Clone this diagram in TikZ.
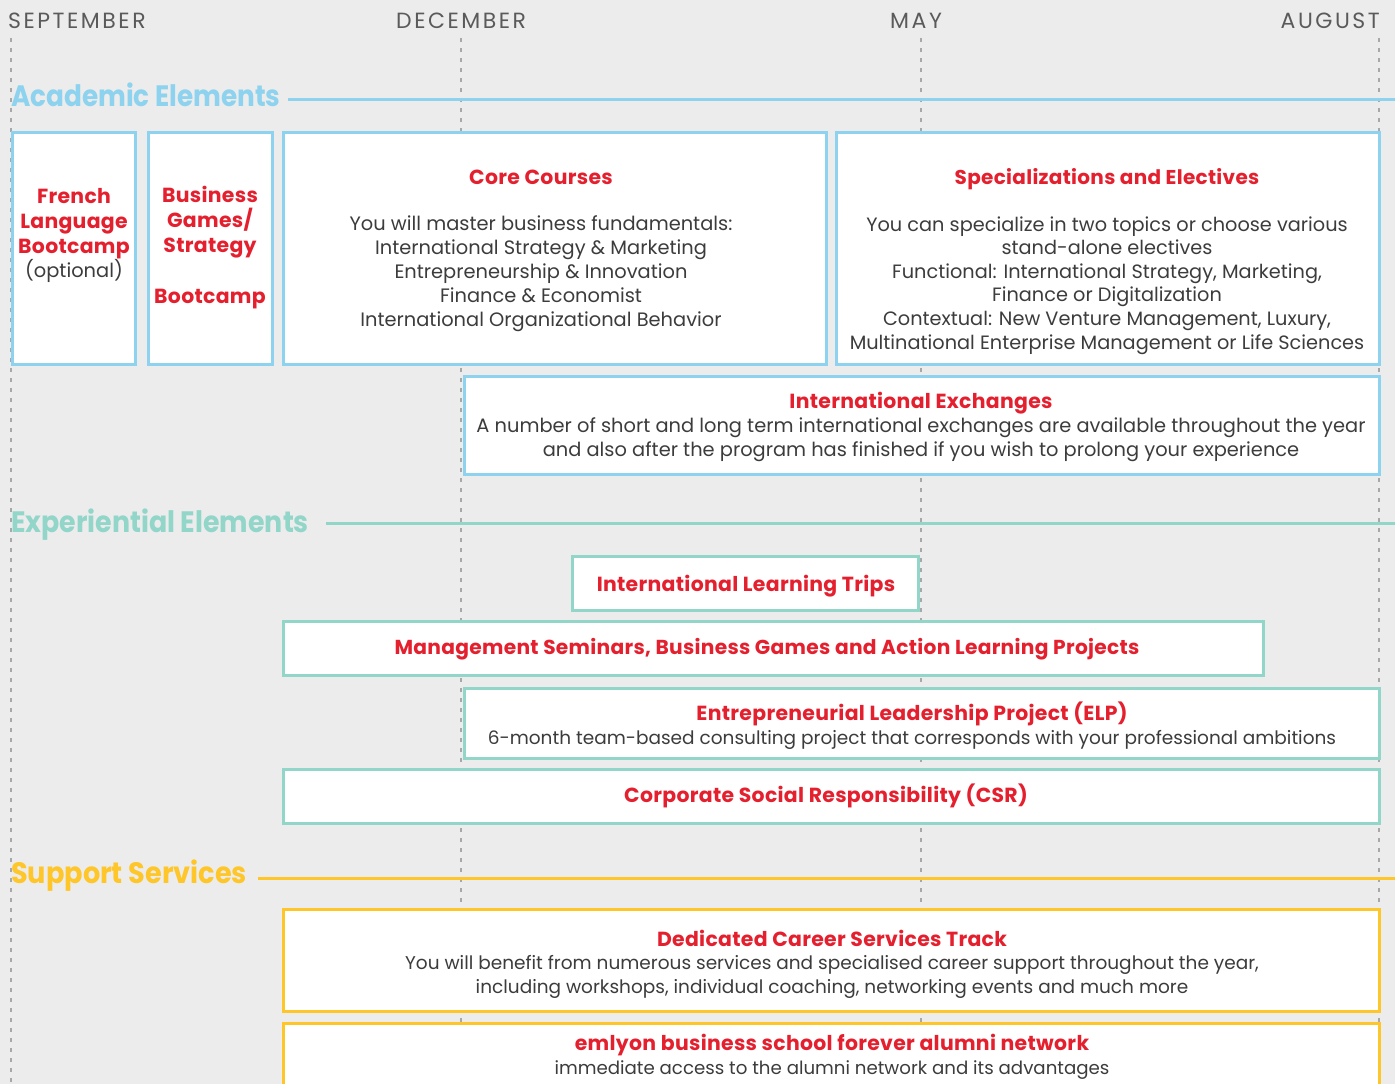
\documentclass[tikz,border=0pt]{standalone}
\usepackage{fontspec}
\setmainfont{Poppins}
\definecolor{bg}{HTML}{EBECEB}
\definecolor{acblue}{HTML}{8DD2EE}
\definecolor{exteal}{HTML}{92D5C9}
\definecolor{supyel}{HTML}{FFC629}
\definecolor{hred}{HTML}{E5202E}
\definecolor{bodygray}{HTML}{3C3C3C}
\definecolor{monthgray}{HTML}{5A5A5A}
\definecolor{dashgray}{HTML}{A8A8A8}
\begin{document}
\begin{tikzpicture}[x=1pt,y=-1pt,
  boxshape/.style={draw, line width=3pt, fill=white, anchor=north west, inner sep=0pt, outer sep=0pt},
  acbox/.style={boxshape, draw=acblue},
  exbox/.style={boxshape, draw=exteal},
  supbox/.style={boxshape, draw=supyel},
  body/.style={inner sep=0pt, anchor=base, align=center, text=bodygray, font=\fontsize{19.4}{23.8}\selectfont},
  smallbody/.style={body, font=\fontsize{18.5}{23.8}\selectfont},
  title/.style={inner sep=0pt, anchor=base, align=center, text=hred, font=\fontsize{20.4}{24.6}\selectfont\bfseries\addfontfeatures{LetterSpace=1.5}},
  month/.style={inner sep=0pt, text=monthgray, font=\fontsize{22}{24}\selectfont\addfontfeatures{LetterSpace=11.5}},
  heading/.style={inner sep=0pt, anchor=base west, font=\fontsize{29.5}{32}\selectfont\bfseries},
  timeline/.style={dashgray, line width=1.2pt, dash pattern=on 4pt off 6pt},
  secline/.style={line width=3pt}
]
\useasboundingbox (0,0) rectangle (1395,1084);
\fill[bg] (0,0) rectangle (1395,1084);

% month labels
\node[month, anchor=base west] (sep) at (8,28) {SEPTEMBER};
\node[month, anchor=base west] (dec) at (396,28) {DECEMBER};
\node[month, anchor=base west] (may) at (890,28) {MAY};
\node[month, anchor=base east] (aug) at (1380,28) {AUGUST};

% timeline dashed verticals
\coordinate (t1a) at (11,38);   \coordinate (t1b) at (11,1084);
\coordinate (t2a) at (461,38);  \coordinate (t2b) at (461,1084);
\coordinate (t3a) at (921,38);  \coordinate (t3b) at (921,1084);
\coordinate (t4a) at (1379,38); \coordinate (t4b) at (1379,1084);
\draw[timeline] (t1a) -- (t1b);
\draw[timeline] (t2a) -- (t2b);
\draw[timeline] (t3a) -- (t3b);
\draw[timeline] (t4a) -- (t4b);

% section headings
\node[heading, text=acblue] (acad) at (11,106) {\scalebox{0.89}[1]{Academic Elements}};
\coordinate (aL) at (288,99); \coordinate (aR) at (1395,99);
\draw[secline, acblue] (aL) -- (aR);

\node[heading, text=exteal] (expe) at (11,532) {\scalebox{0.91}[1]{Experiential Elements}};
\coordinate (eL) at (326,523); \coordinate (eR) at (1395,523);
\draw[secline, exteal] (eL) -- (eR);

\node[heading, text=supyel] (supp) at (11,883) {\scalebox{0.92}[1]{Support Services}};
\coordinate (sL) at (258,878); \coordinate (sR) at (1395,878);
\draw[secline, supyel] (sL) -- (sR);

% academic boxes
\node[acbox, minimum width=123pt, minimum height=232pt] (french) at (12.5,132.5) {};
\node[acbox, minimum width=123.5pt, minimum height=232pt] (busi) at (148.5,132.5) {};
\node[acbox, minimum width=542.5pt, minimum height=232pt] (core) at (283.5,132) {};
\node[acbox, minimum width=542.5pt, minimum height=232pt] (spec) at (836.5,132) {};
\node[acbox, minimum width=914.5pt, minimum height=97.5pt] (iex) at (464.5,376.5) {};

\node[title] (frenchT) at (74,253) {French\\Language\\Bootcamp};
\node[body] (frenchO) at (74,277) {(optional)};
\node[title] (busiT) at (210,252) {Business\\Games/\\Strategy};
\node[title] (busiB) at (210,303) {Bootcamp};

\node[title] (coreT) at (541,184) {Core Courses};
\node[body] (coreB) at (541,326) {You will master business fundamentals:\\International Strategy \& Marketing\\Entrepreneurship \& Innovation\\Finance \& Economist\\International Organizational Behavior};

\node[title, font=\fontsize{20}{24.6}\selectfont\bfseries\addfontfeatures{LetterSpace=1.5}] (specT) at (1107,184) {Specializations and Electives};
\node[body, font=\fontsize{19.3}{23.6}\selectfont] (specB) at (1107,349) {You can specialize in two topics or choose various\\stand-alone electives\\Functional: International Strategy, Marketing,\\Finance or Digitalization\\Contextual: New Venture Management, Luxury,\\Multinational Enterprise Management or Life Sciences};

\node[title] (iexT) at (921,408) {International Exchanges};
\node[body] (iexB) at (921,456) {A number of short and long term international exchanges are available throughout the year\\and also after the program has finished if you wish to prolong your experience};

% experiential boxes
\node[exbox, minimum width=346pt, minimum height=53.5pt] (ilt) at (572.5,556.5) {};
\node[exbox, minimum width=979.5pt, minimum height=54pt] (mgmt) at (283.5,621.5) {};
\node[exbox, minimum width=914.5pt, minimum height=70pt] (elp) at (464.5,688.5) {};
\node[exbox, minimum width=1095.5pt, minimum height=53.5pt] (csr) at (283.5,769.5) {};

\node[title] (iltT) at (746,591) {International Learning Trips};
\node[title, font=\fontsize{20.2}{24.6}\selectfont\bfseries\addfontfeatures{LetterSpace=1.5}] (mgmtT) at (767,654) {Management Seminars, Business Games and Action Learning Projects};
\node[title] (elpT) at (912,720) {Entrepreneurial Leadership Project (ELP)};
\node[smallbody] (elpB) at (912,744) {6-month team-based consulting project that corresponds with your professional ambitions};
\node[title] (csrT) at (826,802) {Corporate Social Responsibility (CSR)};

% support boxes
\node[supbox, minimum width=1095.5pt, minimum height=101.5pt] (career) at (283.5,909.5) {};
\node[supbox, minimum width=1095.5pt, minimum height=76.5pt] (alumni) at (283.5,1023.5) {};

\node[title] (careerT) at (832,946) {Dedicated Career Services Track};
\node[smallbody] (careerB) at (832,993) {You will benefit from numerous services and specialised career support throughout the year,\\including workshops, individual coaching, networking events and much more};
\node[title] (alumniT) at (832,1050) {emlyon business school forever alumni network};
\node[smallbody, font=\fontsize{18.2}{23.8}\selectfont] (alumniB) at (832,1074) {immediate access to the alumni network and its advantages};
\end{tikzpicture}
\end{document}
